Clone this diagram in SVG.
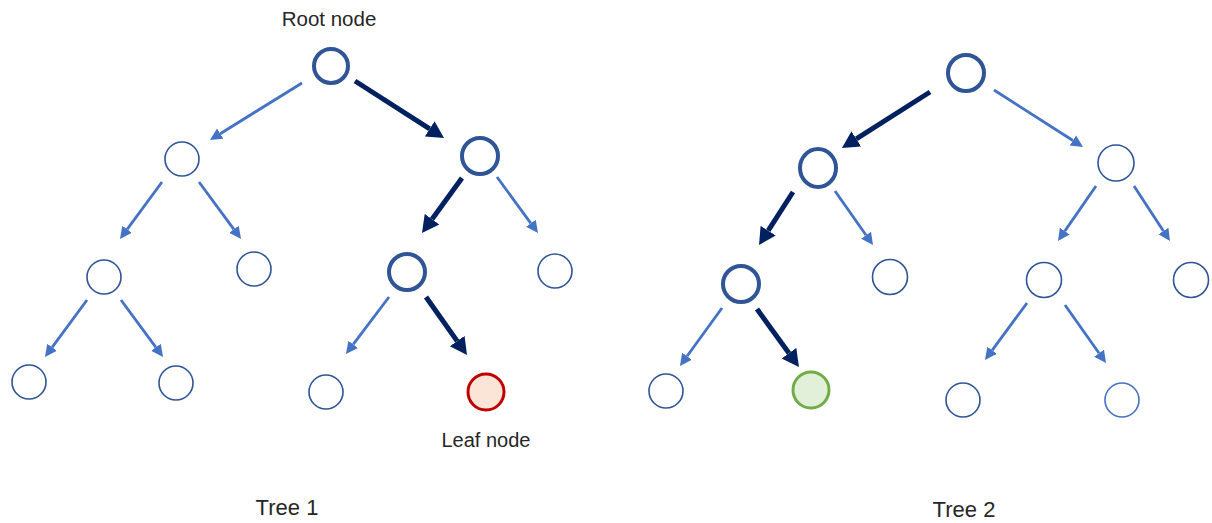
<svg xmlns="http://www.w3.org/2000/svg" width="1212" height="523" viewBox="0 0 1212 523">
<style>
.bold{fill:#fff;stroke:#2f5597;stroke-width:4}
.thin{fill:#fff;stroke:#2f5597;stroke-width:1.6}
.leafr{fill:#fbe5d6;stroke:#c00000;stroke-width:3}
.leafg{fill:#e2f0d9;stroke:#70ad47;stroke-width:3}
.la{stroke:#4472c4;stroke-width:2.8;fill:none;marker-end:url(#ha)}
.da{stroke:#002060;stroke-width:5;fill:none;marker-end:url(#hd)}
text{font-family:"Liberation Sans",Arial,sans-serif;fill:#262626;text-anchor:middle}
</style>
<defs>
<marker id="ha" markerUnits="userSpaceOnUse" markerWidth="14" markerHeight="14" viewBox="0 -7 14 14" refX="0" refY="0" orient="auto">
<path d="M0,-6 L12,0 L0,6 z" fill="#4472c4"/>
</marker>
<marker id="hd" markerUnits="userSpaceOnUse" markerWidth="20" markerHeight="20" viewBox="0 -10 20 20" refX="0" refY="0" orient="auto">
<path d="M0,-9 L17,0 L0,9 z" fill="#002060"/>
</marker>
</defs>
<g id="connectors">
<line class="la" x1="302" y1="83" x2="220.2" y2="133.7"/>
<line class="da" x1="355" y1="81" x2="429.7" y2="128.8"/>
<line class="la" x1="162" y1="182" x2="127.1" y2="229.3"/>
<line class="la" x1="199" y1="182" x2="233.9" y2="229.3"/>
<line class="da" x1="462" y1="178" x2="432" y2="219.2"/>
<line class="la" x1="497" y1="177" x2="530.9" y2="223.3"/>
<line class="la" x1="87" y1="300" x2="52.1" y2="347.3"/>
<line class="la" x1="121" y1="300" x2="155.9" y2="347.3"/>
<line class="la" x1="389" y1="297" x2="353.2" y2="344.4"/>
<line class="da" x1="426" y1="297" x2="457.2" y2="341.1"/>
<line class="da" x1="930" y1="92" x2="856.3" y2="138.9"/>
<line class="la" x1="994" y1="90" x2="1072.9" y2="140.5"/>
<line class="da" x1="793" y1="192" x2="768.2" y2="230.7"/>
<line class="la" x1="835" y1="191" x2="866.1" y2="235.2"/>
<line class="la" x1="1096" y1="186" x2="1064.8" y2="231.1"/>
<line class="la" x1="1134" y1="186" x2="1163.4" y2="231"/>
<line class="la" x1="722" y1="308" x2="687" y2="356.3"/>
<line class="da" x1="757" y1="309" x2="789" y2="353.2"/>
<line class="la" x1="1027" y1="303" x2="992.1" y2="350.3"/>
<line class="la" x1="1065" y1="305" x2="1099.1" y2="353.2"/>
</g>
<g id="t1-root"><circle class="bold" cx="331" cy="66" r="17"/></g>
<g id="t1-n1L"><circle class="thin" cx="182" cy="159" r="17"/></g>
<g id="t1-n1R"><circle class="bold" cx="480" cy="156" r="18"/></g>
<g id="t1-n2a"><circle class="thin" cx="104" cy="277" r="17"/></g>
<g id="t1-n2b"><circle class="thin" cx="254" cy="269" r="17"/></g>
<g id="t1-n2c"><circle class="bold" cx="407" cy="272" r="18"/></g>
<g id="t1-n2d"><circle class="thin" cx="555" cy="271" r="17"/></g>
<g id="t1-n3a"><circle class="thin" cx="29" cy="382" r="17"/></g>
<g id="t1-n3b"><circle class="thin" cx="176" cy="383" r="17"/></g>
<g id="t1-n3c"><circle class="thin" cx="326" cy="392" r="17"/></g>
<g id="t1-leaf"><circle class="leafr" cx="486" cy="392" r="18"/></g>
<g id="t2-root"><circle class="bold" cx="966" cy="73" r="18"/></g>
<g id="t2-n1L"><ellipse class="bold" cx="818" cy="168" rx="18" ry="19"/></g>
<g id="t2-n1R"><circle class="thin" cx="1116" cy="163" r="18"/></g>
<g id="t2-n2a"><circle class="bold" cx="741" cy="284" r="18"/></g>
<g id="t2-n2b"><circle class="thin" cx="890" cy="277" r="17.5"/></g>
<g id="t2-n2c"><circle class="thin" cx="1044" cy="280" r="17.5"/></g>
<g id="t2-n2d"><circle class="thin" cx="1191" cy="280" r="17.5"/></g>
<g id="t2-n3a"><circle class="thin" cx="666" cy="391" r="17"/></g>
<g id="t2-leaf"><circle class="leafg" cx="811" cy="390" r="18"/></g>
<g id="t2-n3c"><circle class="thin" cx="963" cy="400" r="17"/></g>
<g id="t2-n3d"><circle class="thin" cx="1122" cy="400" r="17" style="stroke:#4472c4"/></g>
<g id="labels">
<text x="329" y="26" font-size="20.5">Root node</text>
<text x="486" y="447" font-size="20">Leaf node</text>
<text x="287" y="515" font-size="22">Tree 1</text>
<text x="964" y="517" font-size="22">Tree 2</text>
</g>
</svg>
